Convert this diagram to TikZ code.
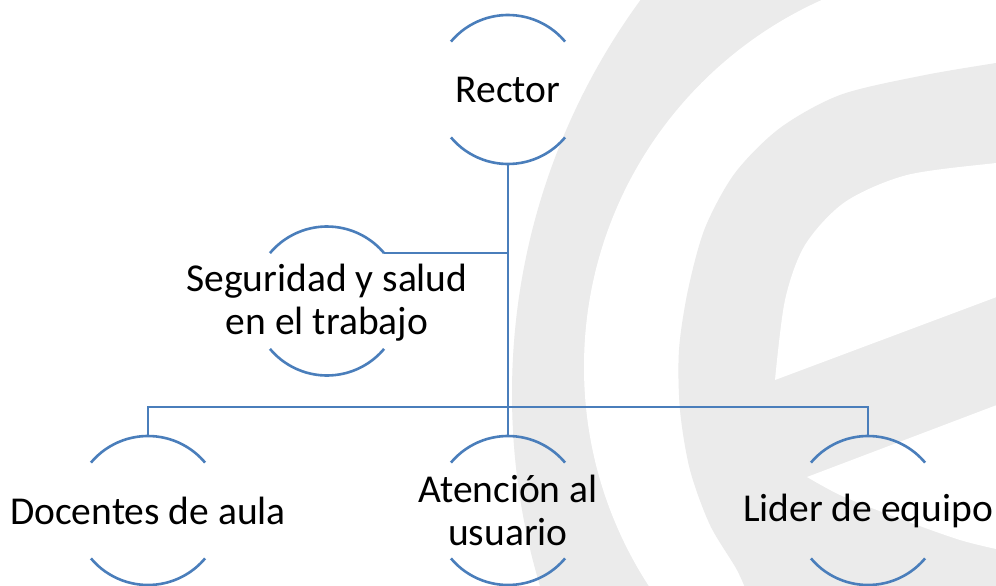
\documentclass[tikz,border=0pt]{standalone}
\usepackage{fontspec}
\setmainfont{Carlito}
\definecolor{linecol}{RGB}{74,126,187}
\definecolor{wm}{RGB}{235,235,235}
\begin{document}
\begin{tikzpicture}[x=1pt,y=1pt,
  ring/.style={circle, minimum size=149pt, inner sep=0pt, outer sep=0pt, draw=none},
  lbl/.style={font=\fontsize{39.5}{43}\selectfont, align=center, inner sep=0pt, text=black},
  arcline/.style={draw=linecol, line width=2.6pt},
  conn/.style={draw=linecol, line width=2.6pt}]
\useasboundingbox (0,0) rectangle (996,-586);
% watermark
\begin{scope}
  \clip (0,0) rectangle (996,-586);
  \fill[white] (0,0) rectangle (996,-586);
  \fill[wm] (1180,-394) circle[radius=668];
  \fill[white] (986,-367) circle[radius=402];
  \fill[wm] plot[smooth] coordinates {(1050,-55) (996,-63) (920,-76) (840,-95) (780,-128) (735,-173) (705,-228) (688,-290) (679,-350) (680,-410) (690,-470) (710,-525) (737,-570) (750,-600)} -- (1100,-620) -- (1100,-55) -- cycle;
  \fill[white] plot[smooth] coordinates {(1010,-162) (996,-163) (907,-175) (845,-202) (805,-245) (785,-300) (775,-380)} -- (1010,-292) -- cycle;
  \fill[white] (807,-477) -- (1010,-400) -- (1010,-552) -- plot[smooth] coordinates {(1010,-552) (960,-540) (890,-515) (840,-495) (807,-477)} -- cycle;
\end{scope}
% rings
\node[ring] (rector) at (508,-89.5) {};
\node[ring] (seg) at (327,-301) {};
\node[ring] (doc) at (148,-510.5) {};
\node[ring] (aten) at (508,-510.5) {};
\node[ring] (lider) at (868,-510.5) {};
\foreach \n in {rector,seg,doc,aten,lider}{
  \draw[arcline] (\n.140) arc[start angle=140, end angle=40, radius=74.5];
  \draw[arcline] (\n.220) arc[start angle=220, end angle=320, radius=74.5];
}
% connectors
\coordinate (bar) at (508,-407);
\draw[conn] (rector.south) -- (aten.north);
\draw[conn] (seg.40) -- (seg.40 -| rector.south);
\draw[conn] (doc.north) |- (bar) -| (lider.north);
% labels
\node[lbl] (rectorT) at (rector) {Rector};
\node[lbl] (segT) at ([yshift=-2pt]seg) {Seguridad y salud\\en el trabajo};
\node[lbl] (docT) at (doc) {Docentes de aula};
\node[lbl] (atenT) at (aten) {Atención al\\usuario};
\node[lbl] (liderT) at (lider) {Lider de equipo};
\end{tikzpicture}
\end{document}
